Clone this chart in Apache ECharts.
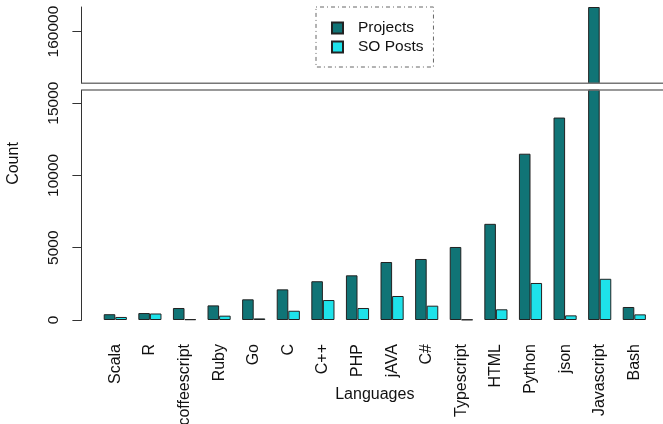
<!DOCTYPE html>
<html>
<head>
<meta charset="utf-8">
<script src="https://cdn.jsdelivr.net/npm/echarts@6/dist/echarts.min.js"></script>
<style>html,body{margin:0;padding:0;background:#fff}#c{width:663px;height:424px}</style>
</head>
<body>
<div id="c"></div>
<script>
const categories = ['Scala','R','coffeescript','Ruby','Go','C','C++','PHP','jAVA','C#','Typescript','HTML','Python','json','Javascript','Bash'];
const projects = [400, 480, 830, 1010, 1430, 2120, 2680, 3090, 4010, 4220, 5050, 6650, 11500, 14000, 161700, 900];
const soPosts  = [210, 450, 50, 300, 110, 640, 1380, 830, 1660, 990, 30, 740, 2560, 320, 2850, 390];
const lowerTicks = [0, 5000, 10000, 15000];
const upperTicks = [160000];
const lowerRange = [0, 15906];
const upperRange = [156423, 161700];

const FONT = 'Liberation Sans, Arial, Helvetica, sans-serif';
const C_PROJ = '#107476';
const C_SO = '#1EE2EA';
const inUpper = v => (v > upperRange[0] ? v : '-');

const chart = echarts.init(document.getElementById('c'), null, {renderer: 'canvas'});
const barStyle = c => ({color: c, borderColor: '#222', borderWidth: 1});
const yAxisBase = (range, ticks, gridIndex) => ({
  type: 'value', gridIndex, min: range[0], max: range[1], offset: 16.3,
  axisLine: {show: true, lineStyle: {color: '#333', width: 1}},
  axisTick: {show: true, length: 9.3, lineStyle: {color: '#333'}, customValues: ticks},
  axisLabel: {show: true, rotate: 90, margin: 20, fontSize: 15.5, fontFamily: FONT, color: '#111',
              customValues: ticks, formatter: v => String(v)},
  splitLine: {show: false}
});
const xAxisBase = (gridIndex, showLabels) => ({
  type: 'category', gridIndex, data: categories,
  axisLine: {show: false}, axisTick: {show: false},
  axisLabel: {show: showLabels, rotate: 90, margin: 24, interval: 0, fontSize: 16, fontFamily: FONT, color: '#111'},
  name: showLabels ? 'Languages' : '', nameLocation: 'middle', nameGap: 66.5, nameMoveOverlap: false,
  nameTextStyle: {fontSize: 16, fontFamily: FONT, color: '#111'}
});

chart.setOption({
  animation: false,
  grid: [
    {left: 98, right: 11.4, top: 7, height: 76.3, containLabel: false, outerBoundsMode: 'none'},
    {left: 98, right: 11.4, top: 90, height: 230, containLabel: false, outerBoundsMode: 'none'}
  ],
  xAxis: [xAxisBase(0, false), xAxisBase(1, true)],
  yAxis: [yAxisBase(upperRange, upperTicks, 0), yAxisBase(lowerRange, lowerTicks, 1)],
  legend: {
    left: 316, top: 7, orient: 'vertical',
    data: ['Projects', 'SO Posts'],
    icon: 'rect', itemWidth: 11, itemHeight: 11, itemGap: 1,
    padding: [12, 10, 11, 15],
    borderColor: '#666', borderWidth: 1, borderType: [1, 3, 4, 3],
    textStyle: {fontSize: 15.5, fontFamily: FONT, color: '#111', lineHeight: 18, padding: [0, 0, 0, 10]}
  },
  graphic: [
    {type: 'line', shape: {x1: 81.7, y1: 83.3, x2: 663, y2: 83.3}, style: {stroke: '#777', lineWidth: 1.5}, z: 100},
    {type: 'line', shape: {x1: 81.7, y1: 90, x2: 663, y2: 90}, style: {stroke: '#777', lineWidth: 1.5}, z: 100},
    {type: 'text', x: 14, y: 163.5, rotation: Math.PI / 2,
     style: {text: 'Count', font: '16px ' + FONT, fill: '#111', textAlign: 'center', textVerticalAlign: 'middle'}}
  ],
  series: [
    {name: 'Projects', type: 'bar', xAxisIndex: 0, yAxisIndex: 0, data: projects.map(inUpper),
     barWidth: 11.57, barGap: '0%', itemStyle: barStyle(C_PROJ), clip: true},
    {name: 'SO Posts', type: 'bar', xAxisIndex: 0, yAxisIndex: 0, data: soPosts.map(inUpper),
     barWidth: 11.57, barGap: '0%', itemStyle: barStyle(C_SO), clip: true},
    {name: 'Projects', type: 'bar', xAxisIndex: 1, yAxisIndex: 1, data: projects,
     barWidth: 11.57, barGap: '0%', itemStyle: barStyle(C_PROJ), clip: true},
    {name: 'SO Posts', type: 'bar', xAxisIndex: 1, yAxisIndex: 1, data: soPosts,
     barWidth: 11.57, barGap: '0%', itemStyle: barStyle(C_SO), clip: true}
  ]
});
</script>
</body>
</html>
